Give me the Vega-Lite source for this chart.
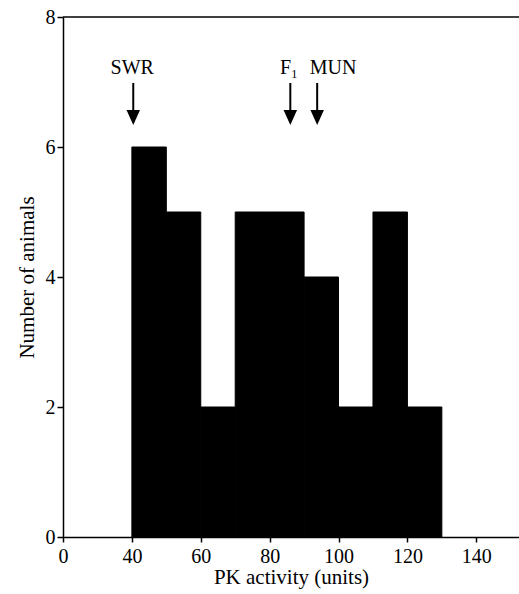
{
  "$schema": "https://vega.github.io/schema/vega-lite/v6.json",
  "width": 456,
  "height": 520,
  "autosize": {"type": "none"},
  "padding": {"left": 63, "top": 17, "right": 0, "bottom": 57},
  "background": "white",
  "config": {
    "view": {"stroke": null},
    "axis": {
      "grid": false,
      "domainColor": "black",
      "domainWidth": 1.5,
      "tickColor": "black",
      "tickWidth": 1.5,
      "labelColor": "black",
      "titleColor": "black",
      "labelFont": "Liberation Serif",
      "titleFont": "Liberation Serif",
      "labelFontSize": 20,
      "titleFontSize": 21,
      "titleFontWeight": "normal"
    },
    "text": {"font": "Liberation Serif", "fontSize": 20, "color": "black"}
  },
  "datasets": {
    "bins": [
      {"start": 40, "end": 50, "count": 6},
      {"start": 50, "end": 60, "count": 5},
      {"start": 60, "end": 70, "count": 2},
      {"start": 70, "end": 80, "count": 5},
      {"start": 80, "end": 90, "count": 5},
      {"start": 90, "end": 100, "count": 4},
      {"start": 100, "end": 110, "count": 2},
      {"start": 110, "end": 120, "count": 5},
      {"start": 120, "end": 130, "count": 2}
    ],
    "arrows": [
      {"label": "SWR", "x": 40.4, "lx": 40.1},
      {"label": "F₁", "x": 86, "lx": 85.6},
      {"label": "MUN", "x": 93.8, "lx": 98.4}
    ]
  },
  "layer": [
    {
      "data": {"name": "bins"},
      "mark": {"type": "rect", "color": "black", "stroke": "black", "strokeWidth": 1},
      "encoding": {
        "x": {
          "field": "start",
          "type": "quantitative",
          "scale": {"domain": [20, 152.4], "nice": false, "zero": false},
          "axis": {
            "title": "PK activity (units)",
            "values": [20, 40, 60, 80, 100, 120, 140],
            "labelExpr": "datum.value == 20 ? '0' : datum.label",
            "tickSize": 5,
            "labelPadding": 4,
            "titlePadding": 0,
            "labelFlush": false,
            "labelOverlap": false
          }
        },
        "x2": {"field": "end"},
        "y": {
          "field": "count",
          "type": "quantitative",
          "scale": {"domain": [0, 8], "nice": false},
          "axis": {
            "title": "Number of animals",
            "values": [0, 2, 4, 6, 8],
            "format": "d",
            "tickSize": 6,
            "labelPadding": 2,
            "titlePadding": 8,
            "labelFlush": false
          }
        },
        "y2": {"datum": 0}
      }
    },
    {
      "data": {"values": [{"top": 8}]},
      "mark": {"type": "rule", "color": "black", "strokeWidth": 1.5},
      "encoding": {"y": {"field": "top", "type": "quantitative"}}
    },
    {
      "data": {"name": "arrows"},
      "mark": {"type": "rule", "color": "black", "strokeWidth": 2},
      "encoding": {
        "x": {"field": "x", "type": "quantitative"},
        "y": {"datum": 6.985},
        "y2": {"datum": 6.49}
      }
    },
    {
      "data": {"name": "arrows"},
      "mark": {
        "type": "point",
        "shape": "M -0.45 -1 L 0.45 -1 L 0 0 Z",
        "filled": true,
        "color": "black",
        "opacity": 1,
        "size": 900
      },
      "encoding": {
        "x": {"field": "x", "type": "quantitative"},
        "y": {"datum": 6.34}
      }
    },
    {
      "data": {"name": "arrows"},
      "mark": {"type": "text", "baseline": "alphabetic", "align": "center"},
      "encoding": {
        "x": {"field": "lx", "type": "quantitative"},
        "y": {"datum": 7.12},
        "text": {"field": "label"}
      }
    }
  ]
}
